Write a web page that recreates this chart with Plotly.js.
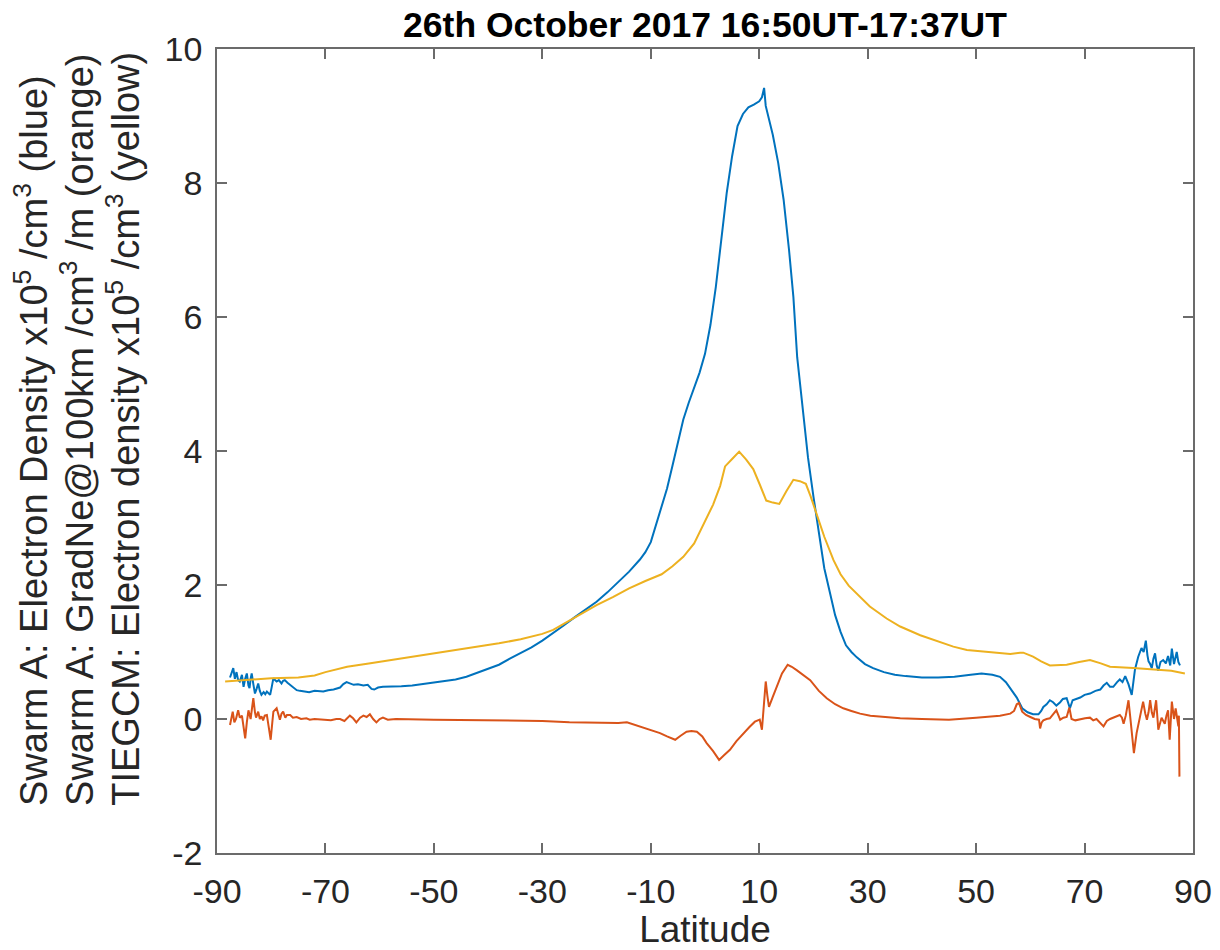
<!DOCTYPE html>
<html>
<head>
<meta charset="utf-8">
<script src="https://cdn.plot.ly/plotly-3.0.1.min.js"></script>
<style>
  html, body { margin: 0; padding: 0; background: #fff; }
  #chart { width: 1220px; height: 950px; }
</style>
</head>
<body>
<div id="chart"></div>
<script>
// Swarm A electron density along the pass (x10^5 /cm^3)
const swarmLat = [
  -87.6, -87.3, -87.0, -86.7, -86.4, -86.1, -85.8, -85.4, -85.1, -84.8,
  -84.5, -84.2, -84.0, -83.8, -83.6, -83.3, -83.0, -82.7, -82.4, -82.1,
  -81.8, -81.4, -81.1, -80.8, -80.5, -80.2, -79.9, -79.6, -79.3, -79.0,
  -78.6, -78.1, -77.8, -77.5, -77.0, -76.5, -76.0, -75.3, -74.7, -74.1,
  -73.0, -72.0, -71.0, -70.4, -69.5, -68.5, -67.3, -66.7, -66.1, -65.5,
  -64.8, -64.0, -63.0, -62.2, -61.5, -61.0, -60.3, -59.4, -58.0, -56.0,
  -54.0, -52.0, -50.0, -48.0, -46.0, -44.0, -42.0, -40.0, -38.0, -36.0,
  -34.0, -32.0, -30.0, -28.0, -26.0, -24.0, -22.0, -20.0, -18.0, -16.0,
  -14.0, -12.0, -11.0, -10.0, -9.0, -8.0, -7.0, -6.0, -5.0, -4.0,
  -3.0, -2.0, -1.0, 0.0, 1.0, 2.0, 3.0, 4.0, 5.0, 6.0,
  7.0, 8.0, 9.0, 10.0, 10.5, 10.9, 11.2, 11.6, 12.5, 13.5,
  14.5, 15.5, 16.3, 17.0, 18.0, 19.0, 20.0, 21.0, 22.0, 23.0,
  24.0, 25.0, 26.0, 27.0, 28.0, 29.5, 31.0, 33.0, 35.0, 37.0,
  40.0, 43.0, 46.0, 49.0, 51.0, 53.0, 54.4, 55.5, 56.5, 57.5,
  58.5, 59.5, 60.5, 61.5, 62.0, 62.4, 63.0, 63.6, 64.2, 64.8,
  65.5, 66.0, 66.7, 67.3, 67.8, 68.5, 69.2, 70.0, 71.0, 72.0,
  72.9, 73.5, 74.1, 74.7, 75.3, 76.0, 76.5, 77.0, 77.5, 78.1,
  78.7, 79.0, 79.3, 79.9, 80.5, 80.9, 81.3, 81.6, 81.8, 82.1,
  82.4, 82.7, 83.0, 83.3, 83.6, 84.0, 84.5, 85.0, 85.4, 85.8,
  86.1, 86.5, 86.8, 87.0, 87.3, 87.6
];
const swarmNe = [
  0.62, 0.68, 0.76, 0.60, 0.70, 0.58, 0.56, 0.66, 0.48, 0.60,
  0.68, 0.50, 0.46, 0.60, 0.68, 0.52, 0.38, 0.45, 0.53, 0.42,
  0.36, 0.40, 0.37, 0.41, 0.38, 0.36, 0.48, 0.61, 0.58, 0.56,
  0.58, 0.53, 0.57, 0.58, 0.54, 0.51, 0.47, 0.43, 0.42, 0.41,
  0.40, 0.42, 0.41, 0.41, 0.43, 0.44, 0.47, 0.52, 0.55, 0.53,
  0.51, 0.52, 0.50, 0.51, 0.45, 0.44, 0.47, 0.48, 0.48, 0.49,
  0.50, 0.52, 0.54, 0.56, 0.59, 0.63, 0.69, 0.75, 0.81, 0.90,
  0.98, 1.07, 1.17, 1.28, 1.40, 1.52, 1.63, 1.75, 1.89, 2.05,
  2.20, 2.38, 2.49, 2.64, 2.90, 3.15, 3.44, 3.78, 4.13, 4.47,
  4.72, 4.95, 5.17, 5.45, 5.88, 6.45, 7.15, 7.85, 8.40, 8.85,
  9.03, 9.13, 9.17, 9.22, 9.28, 9.42, 9.15, 9.02, 8.72, 8.30,
  7.75, 7.00, 6.30, 5.40, 4.60, 3.90, 3.32, 2.75, 2.25, 1.90,
  1.55, 1.30, 1.10, 1.00, 0.92, 0.82, 0.76, 0.70, 0.66, 0.64,
  0.62, 0.62, 0.63, 0.66, 0.68, 0.66, 0.63, 0.55, 0.44, 0.32,
  0.16, 0.10, 0.07, 0.07, 0.12, 0.18, 0.22, 0.28, 0.25, 0.20,
  0.25, 0.30, 0.31, 0.16, 0.28, 0.30, 0.32, 0.36, 0.38, 0.42,
  0.44, 0.50, 0.54, 0.48, 0.48, 0.55, 0.59, 0.55, 0.64, 0.52,
  0.36, 0.55, 0.74, 0.93, 1.06, 1.00, 1.17, 0.95, 0.86, 0.82,
  0.76, 0.90, 0.98, 0.80, 0.72, 0.85, 0.88, 0.83, 0.94, 0.80,
  1.05, 0.82, 0.96, 1.00, 0.85, 0.80
];

// Swarm A density gradient GradNe@100km (/cm^3 /m)
const gradLat = [
  -87.6, -87.3, -87.1, -86.8, -86.5, -86.1, -85.8, -85.4, -85.1, -84.8,
  -84.5, -84.2, -83.8, -83.3, -83.0, -82.8, -82.4, -82.1, -81.8, -81.5,
  -81.2, -80.8, -80.5, -80.1, -79.8, -79.6, -79.0, -78.7, -78.4, -78.1,
  -77.8, -77.4, -77.1, -76.5, -76.0, -75.3, -74.5, -73.5, -72.9, -72.0,
  -71.0, -70.0, -69.0, -68.0, -67.3, -66.5, -65.5, -64.9, -64.3, -63.6,
  -63.0, -62.4, -61.8, -61.2, -60.6, -60.0, -59.4, -58.5, -57.0, -50.0,
  -40.0, -30.0, -25.0, -20.0, -16.0, -14.4, -12.5, -11.4, -10.0, -8.3,
  -7.0, -5.5, -4.5, -3.4, -2.5, -1.5, -0.5, 0.3, 1.5, 2.6,
  3.5, 4.6, 5.8, 7.1, 8.2, 9.2, 10.1, 10.5, 10.8, 11.2,
  11.5, 11.8, 12.5, 13.2, 14.2, 15.25, 16.0, 16.9, 18.0, 19.4,
  21.0, 22.45, 24.0, 25.5, 27.0, 28.6, 30.5, 33.5, 36.0, 40.0,
  45.0, 50.0, 54.4, 56.3, 57.0, 57.5, 57.9, 58.5, 59.2, 60.0,
  60.8, 61.6, 61.8, 62.1, 62.4, 63.0, 63.6, 64.3, 64.8, 65.2,
  65.5, 66.1, 66.7, 67.2, 67.6, 68.3, 69.2, 70.1, 71.0, 71.6,
  72.2, 72.8, 73.5, 74.1, 74.7, 75.6, 76.5, 76.9, 77.2, 77.6,
  78.1, 78.4, 78.7, 79.1, 79.6, 80.2, 80.8, 81.2, 81.5, 81.8,
  82.1, 82.4, 82.7, 83.2, 83.6, 84.2, 84.8, 85.1, 85.4, 85.7,
  86.1, 86.5, 86.8, 87.3, 87.4, 87.5
];
const gradNe = [
  -0.09, 0.05, 0.11, -0.05, 0.00, 0.13, 0.02, 0.05, -0.10, -0.29,
  -0.05, 0.13, 0.00, 0.31, 0.10, 0.02, 0.11, 0.00, 0.04, -0.02,
  0.05, 0.06, -0.10, -0.31, -0.05, 0.11, 0.16, 0.05, -0.01, 0.08,
  0.11, 0.02, 0.06, 0.06, 0.02, 0.03, 0.00, 0.01, -0.01, 0.00,
  -0.01, -0.02, -0.02, 0.00, 0.00, -0.03, 0.05, 0.01, -0.05, 0.02,
  0.05, 0.03, 0.07, 0.00, -0.05, 0.00, 0.02, -0.01, 0.00, -0.01,
  -0.02, -0.03, -0.05, -0.06, -0.06, -0.05, -0.10, -0.14, -0.17, -0.21,
  -0.26, -0.31, -0.25, -0.19, -0.18, -0.19, -0.26, -0.36, -0.48, -0.61,
  -0.54, -0.46, -0.33, -0.21, -0.12, -0.04, -0.01, -0.16, 0.10, 0.56,
  0.35, 0.18, 0.33, 0.48, 0.68, 0.81, 0.78, 0.73, 0.66, 0.58,
  0.42, 0.31, 0.22, 0.16, 0.12, 0.08, 0.05, 0.03, 0.01, 0.00,
  -0.01, 0.02, 0.05, 0.08, 0.12, 0.22, 0.24, 0.11, 0.06, 0.03,
  0.00, -0.01, -0.14, -0.05, -0.02, 0.00, 0.01, 0.08, 0.13, 0.05,
  -0.01, 0.02, 0.03, 0.17, 0.00, -0.02, 0.00, 0.01, 0.02, -0.02,
  0.00, -0.05, -0.11, -0.03, 0.00, 0.03, 0.06, 0.02, -0.07, 0.05,
  0.28, 0.05, -0.16, -0.51, -0.21, 0.00, 0.26, 0.08, -0.01, 0.10,
  0.28, 0.10, 0.02, 0.28, -0.16, 0.02, -0.07, 0.05, 0.13, -0.31,
  0.26, 0.00, 0.16, -0.11, 0.05, -0.86
];

// TIEGCM model electron density along the same track (x10^5 /cm^3)
const modelLat = [
  -88.5, -85.0, -80.0, -75.0, -72.0, -70.0, -68.0, -66.0, -62.0, -58.0,
  -54.0, -50.0, -46.0, -42.0, -38.0, -34.0, -30.0, -28.0, -26.0, -24.0,
  -22.0, -20.0, -17.0, -14.0, -11.0, -8.0, -6.0, -4.0, -2.0, 0.0,
  1.5, 2.8, 3.7, 5.0, 6.3, 7.6, 8.9, 10.1, 11.3, 12.5,
  13.7, 15.0, 16.3, 17.5, 18.6, 19.5, 20.6, 22.0, 23.7, 25.0,
  26.5, 28.6, 30.4, 33.5, 36.0, 39.7, 42.1, 45.8, 48.3, 52.0,
  54.4, 56.3, 58.1, 58.7, 60.5, 62.0, 63.6, 66.7, 69.0, 71.0,
  73.0, 74.7, 79.0, 83.3, 86.0, 88.5
];
const modelNe = [
  0.56, 0.58, 0.61, 0.62, 0.65, 0.70, 0.74, 0.78, 0.83, 0.88,
  0.92, 0.97, 1.02, 1.07, 1.13, 1.19, 1.27, 1.33, 1.42, 1.52,
  1.61, 1.70, 1.82, 1.95, 2.06, 2.16, 2.28, 2.42, 2.62, 2.95,
  3.20, 3.48, 3.77, 3.88, 3.99, 3.87, 3.73, 3.50, 3.26, 3.23,
  3.21, 3.40, 3.57, 3.55, 3.51, 3.32, 3.07, 2.72, 2.37, 2.16,
  1.99, 1.82, 1.68, 1.50, 1.38, 1.25, 1.18, 1.08, 1.03, 1.00,
  0.98, 0.97, 0.99, 0.99, 0.93, 0.86, 0.80, 0.81, 0.85, 0.88,
  0.83, 0.78, 0.76, 0.74, 0.72, 0.68
];

// Tick positions and their labels (plain hyphen minus sign)
const xTicks = [-90, -70, -50, -30, -10, 10, 30, 50, 70, 90];
const xTickText = ['-90', '-70', '-50', '-30', '-10', '10', '30', '50', '70', '90'];
const yTicks = [-2, 0, 2, 4, 6, 8, 10];
const yTickText = ['-2', '0', '2', '4', '6', '8', '10'];

const FONT = 'Liberation Sans, Arial, Helvetica, sans-serif';
const LINE_W = 2;

const traces = [
  { x: swarmLat, y: swarmNe, type: 'scatter', mode: 'lines',
    line: { color: '#0072BD', width: LINE_W }, hoverinfo: 'x+y' },
  { x: gradLat, y: gradNe, type: 'scatter', mode: 'lines',
    line: { color: '#D95319', width: LINE_W }, hoverinfo: 'x+y' },
  { x: modelLat, y: modelNe, type: 'scatter', mode: 'lines',
    line: { color: '#EDB120', width: LINE_W }, hoverinfo: 'x+y' }
];

const axisCommon = {
  showgrid: false, zeroline: false,
  showline: true, linecolor: '#6b6b6b', linewidth: 1.5,
  mirror: 'ticks', ticks: 'inside', ticklen: 10, tickwidth: 1.5,
  tickcolor: '#6b6b6b', tickmode: 'array',
  tickfont: { family: FONT, size: 34, color: '#262626' }
};

// y-axis label: three stacked lines, one per series
const yLabelLines = [
  'Swarm A: Electron Density x10<sup>5</sup> /cm<sup>3</sup> (blue)',
  'Swarm A: GradNe@100km /cm<sup>3</sup> /m (orange)',
  'TIEGCM: Electron density x10<sup>5</sup> /cm<sup>3</sup> (yellow)'
];
const yLabelX = [-0.190, -0.1435, -0.0965];

const annotations = yLabelLines.map((t, i) => ({
  text: t, xref: 'paper', yref: 'paper', x: yLabelX[i], y: 0.056,
  xanchor: 'center', yanchor: 'bottom', textangle: -90, showarrow: false,
  font: { family: FONT, size: 38, color: '#262626' }
}));

const layout = {
  width: 1220, height: 950,
  margin: { l: 217, r: 27, t: 49, b: 97, pad: 0 },
  paper_bgcolor: '#ffffff', plot_bgcolor: '#ffffff',
  showlegend: false,
  title: {
    text: '<b>26th October 2017 16:50UT-17:37UT</b>',
    font: { family: FONT, size: 35.5, color: '#000000' },
    x: 0.5, xref: 'paper', xanchor: 'center',
    y: 1 - 25 / 950, yref: 'container', yanchor: 'middle'
  },
  xaxis: Object.assign({}, axisCommon, {
    range: [-90, 90], tickvals: xTicks, ticktext: xTickText,
    ticklabelstandoff: 7,
    title: { text: 'Latitude', font: { family: FONT, size: 37, color: '#262626' }, standoff: 2 }
  }),
  yaxis: Object.assign({}, axisCommon, {
    range: [-2, 10], tickvals: yTicks, ticktext: yTickText,
    ticklabelstandoff: 6
  }),
  annotations: annotations
};

Plotly.newPlot('chart', traces, layout, { displayModeBar: false });
</script>
</body>
</html>
